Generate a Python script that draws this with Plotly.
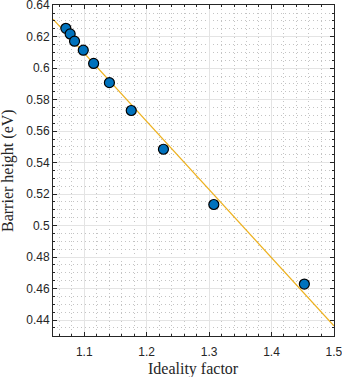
import numpy as np
import plotly.graph_objects as go

# measured points
ideality = [1.0705, 1.0774, 1.0844, 1.0984, 1.1150, 1.1403, 1.1753, 1.2269, 1.3076, 1.4527]
barrier = [0.6253, 0.6217, 0.6171, 0.6114, 0.6030, 0.5908, 0.5731, 0.5485, 0.5134, 0.4629]

# linear fit shown on the chart
fit_slope = -0.4329
fit_intercept = 1.0857
fit_x = [1.05, 1.5]

x_ticks = [1.1, 1.2, 1.3, 1.4, 1.5]
y_ticks = [0.44, 0.46, 0.48, 0.5, 0.52, 0.54, 0.56, 0.58, 0.6, 0.62, 0.64]

fit_y = [fit_slope * x + fit_intercept for x in fit_x]

fig = go.Figure()
fig.add_trace(go.Scatter(
    x=fit_x, y=fit_y, mode="lines",
    line=dict(color="#EDB120", width=1.2),
    showlegend=False,
))
fig.add_trace(go.Scatter(
    x=ideality, y=barrier, mode="markers",
    marker=dict(color="#0072BD", size=10, line=dict(color="black", width=1.2)),
    showlegend=False,
))

axis_style = dict(
    showline=True, linecolor="#262626", linewidth=1, mirror="allticks",
    ticks="inside", ticklen=4, tickcolor="#262626",
    showgrid=True, gridcolor="#e4e4e4", gridwidth=1,
    zeroline=False, automargin=False, ticklabeloverflow="allow",
    tickfont=dict(family="Liberation Sans, Arial", size=12, color="#262626"),
)
minor_style = dict(showgrid=True, griddash="1px,3px", gridcolor="#c4c4c4",
                   ticks="inside", ticklen=2, tickcolor="#262626")

fig.update_xaxes(
    axis_style,
    range=[1.0499, 1.5002], tickvals=x_ticks, ticktext=[f"{v:g}" for v in x_ticks],
    ticklabelstandoff=5,
    minor=dict(minor_style, dtick=0.02, tick0=1.0),
)
fig.update_yaxes(
    axis_style,
    range=[0.4299, 0.6401], tickvals=y_ticks, ticktext=[f"{v:g}" for v in y_ticks],
    minor=dict(minor_style, dtick=0.005, tick0=0.44),
)

title_font = dict(family="Liberation Serif, Times New Roman", size=16, color="#262626")
fig.add_annotation(text="Ideality factor", xref="paper", yref="paper",
                   x=0.5, y=-0.1, xanchor="center", yanchor="middle",
                   showarrow=False, font=title_font)
fig.add_annotation(text="Barrier height (eV)", xref="paper", yref="paper",
                   x=-0.162, y=0.5, xanchor="center", yanchor="middle",
                   textangle=-90, showarrow=False, font=title_font)

fig.update_layout(
    width=342, height=377,
    margin=dict(l=53, r=8, t=5, b=41),
    paper_bgcolor="white", plot_bgcolor="white",
)

# page body has a default margin, drop it so the chart sits at the window corner
fig.write_html("out.html", config={"displayModeBar": False},
               post_script="document.body.style.margin='0';")
